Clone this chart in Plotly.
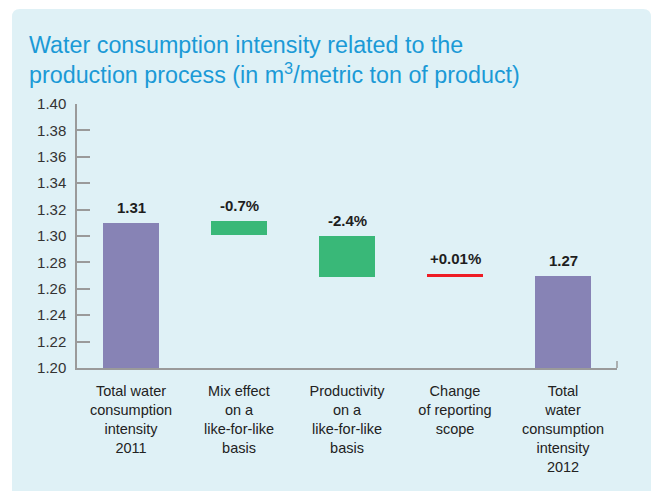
import plotly.graph_objects as go

# ---- data ----
categories = [
    "Total water<br>consumption<br>intensity<br>2011",
    "Mix effect<br>on a<br>like-for-like<br>basis",
    "Productivity<br>on a<br>like-for-like<br>basis",
    "Change<br>of reporting<br>scope",
    "Total<br>water<br>consumption<br>intensity<br>2012",
]
bar_bottom = [1.20, 1.301, 1.269, 1.2693, 1.20]
bar_top = [1.31, 1.311, 1.300, 1.2715, 1.27]
bar_labels = ["1.31", "-0.7%", "-2.4%", "+0.01%", "1.27"]
bar_colors = ["#8783b5", "#39b878", "#39b878", "#ee1c25", "#8783b5"]
y_ticks = [1.20, 1.22, 1.24, 1.26, 1.28, 1.30, 1.32, 1.34, 1.36, 1.38, 1.40]

W, H = 654, 491
L, R, T, B = 77, 37, 104, 123
pw, ph = W - L - R, H - T - B

xs = list(range(len(categories)))
heights = [t - b for t, b in zip(bar_top, bar_bottom)]

fig = go.Figure()
fig.add_trace(go.Bar(
    x=xs, y=heights, base=bar_bottom, width=0.51,
    marker=dict(color=bar_colors, line=dict(width=0)),
    hoverinfo="skip",
))

for x, top, lab in zip(xs, bar_top, bar_labels):
    fig.add_annotation(
        x=x, y=top, text=f"<b>{lab}</b>", showarrow=False,
        yanchor="bottom", yshift=5,
        font=dict(family="Liberation Sans, Arial, sans-serif", size=15, color="#1e1e1e"),
    )

# panel background (rounded top corners)
def px2paper(px, py):
    return (px - L) / pw, (H - B - py) / ph

x0, y0 = px2paper(12, 9)
x1, y1 = px2paper(651, 495)
rx = 8 / pw
ry = 8 / ph
path = (f"M {x0},{y1} L {x0},{y0 - ry} Q {x0},{y0} {x0 + rx},{y0} "
        f"L {x1 - rx},{y0} Q {x1},{y0} {x1},{y0 - ry} L {x1},{y1} Z")
fig.add_shape(type="path", path=path, xref="paper", yref="paper",
              fillcolor="#dff1f6", line=dict(width=0), layer="below")

# small end tick at right of x axis
fig.add_shape(type="line", xref="paper", yref="paper",
              x0=1, x1=1, y0=0, y1=7 / ph,
              line=dict(color="#9a9a9a", width=1.5))

fig.update_layout(
    width=W, height=H,
    margin=dict(l=L, r=R, t=T, b=B, pad=0),
    paper_bgcolor="white",
    plot_bgcolor="rgba(0,0,0,0)",
    showlegend=False,
    bargap=0,
    title=dict(
        text="Water consumption intensity related to the<br>production process (in m<sup>3</sup>/metric ton of product)",
        xref="container", yref="container", x=29 / W, xanchor="left",
        y=1 - 53 / H, yanchor="top",
        font=dict(family="Liberation Sans, Arial, sans-serif", size=23.3, color="#1b9ad6"),
    ),
    font=dict(family="Liberation Sans, Arial, sans-serif", size=15, color="#222222"),
)

fig.update_xaxes(
    range=[-0.5, 4.5], tickvals=xs, ticktext=categories,
    showline=True, linecolor="#9a9a9a", linewidth=1.5,
    showgrid=False, zeroline=False, ticks="",
    tickfont=dict(size=14.5, color="#222222"),
    ticklabelstandoff=9,
    fixedrange=True,
)
fig.update_yaxes(
    range=[1.20, 1.40], tickvals=y_ticks, ticktext=[f"{v:.2f}" for v in y_ticks],
    showline=True, linecolor="#9a9a9a", linewidth=1.5,
    ticks="inside", ticklen=13, tickwidth=1.5, tickcolor="#9a9a9a",
    showgrid=False, zeroline=False,
    tickfont=dict(size=15, color="#333333"),
    ticklabelstandoff=6,
    fixedrange=True,
)

fig.write_html("out.html", config={"displayModeBar": False},
               post_script="document.body.style.margin='0';")
